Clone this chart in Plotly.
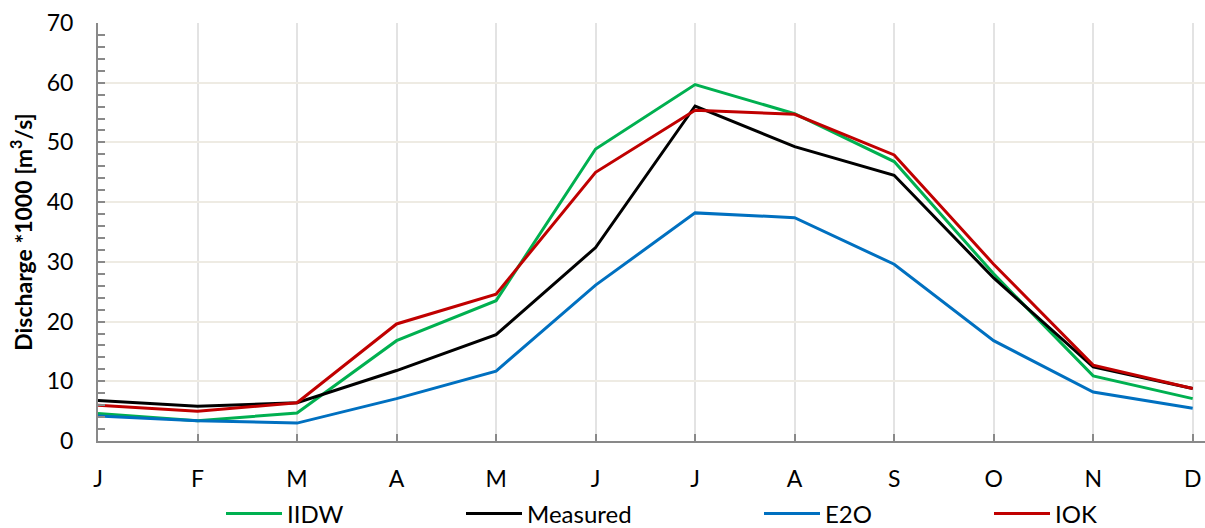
import plotly.graph_objects as go

months = ["J", "F", "M", "A", "M", "J", "J", "A", "S", "O", "N", "D"]
iidw = [4.6, 3.4, 4.7, 16.8, 23.5, 48.9, 59.7, 54.8, 46.8, 28.0, 10.9, 7.1]
measured = [6.8, 5.8, 6.4, 11.8, 17.8, 32.4, 56.1, 49.3, 44.5, 27.3, 12.4, 8.8]
e2o = [4.2, 3.4, 3.0, 7.1, 11.7, 26.1, 38.2, 37.4, 29.6, 16.8, 8.2, 5.5]
iok = [6.0, 5.0, 6.4, 19.6, 24.6, 45.0, 55.4, 54.7, 47.9, 29.6, 12.7, 8.8]

series = [
    ("IIDW", iidw, "#00B050", "legend", 229),
    ("Measured", measured, "#000000", "legend2", 469),
    ("E2O", e2o, "#0070C0", "legend3", 767),
    ("IOK", iok, "#C00000", "legend4", 997),
]

W, H = 1205, 528
L, R, T, B = 98, 0, 23, 87
plot_w = W - L - R
plot_h = H - T - B

x = list(range(len(months)))
fig = go.Figure()
for name, vals, color, leg, _ in series:
    fig.add_trace(go.Scatter(
        x=x, y=vals, name=name, mode="lines",
        line=dict(color=color, width=3),
        legend=leg,
    ))

font = "Lato, 'Open Sans', sans-serif"
layout_legends = {}
for name, vals, color, leg, px in series:
    layout_legends[leg] = dict(
        x=(px - 8 - L) / plot_w, xanchor="left",
        y=-(514 - (H - B)) / plot_h, yanchor="middle",
        orientation="h", bgcolor="rgba(0,0,0,0)",
        font=dict(family=font, size=24, color="#000000"),
        itemwidth=56,
    )

fig.update_layout(
    width=W, height=H,
    margin=dict(l=L, r=R, t=T, b=B, autoexpand=False),
    paper_bgcolor="white", plot_bgcolor="white",
    font=dict(family=font, size=23, color="#000000"),
    showlegend=True,
    **layout_legends,
    xaxis=dict(
        range=[0, 11 + (W - R - 1192.7) / 99.4],
        tickvals=x, ticktext=months,
        showgrid=True, gridcolor="#E3E3E3", gridwidth=2,
        showline=True, linecolor="#898989", linewidth=2,
        ticks="inside", ticklen=7, tickcolor="#898989", tickwidth=2,
        ticklabelstandoff=16,
        zeroline=False, automargin=False,
        tickfont=dict(family=font, size=23),
    ),
    yaxis=dict(
        range=[0, 70], dtick=10, tick0=0,
        showgrid=True, gridcolor="#EEEBE3", gridwidth=2,
        showline=True, linecolor="#898989", linewidth=2,
        ticks="inside", ticklen=7, tickcolor="#898989", tickwidth=2,
        minor=dict(dtick=2, ticks="inside", ticklen=7, tickcolor="#898989", tickwidth=2, showgrid=False),
        ticklabelstandoff=18,
        zeroline=False, automargin=False,
        tickfont=dict(family=font, size=23),
        title=dict(text="<b>Discharge *1000 [m<sup>3</sup>/s]</b>",
                   font=dict(family=font, size=23), standoff=8),
    ),
)

fig.write_html(
    "out.html",
    config={"displayModeBar": False},
    post_script="document.body.style.margin='0';document.body.style.overflow='hidden';",
)
